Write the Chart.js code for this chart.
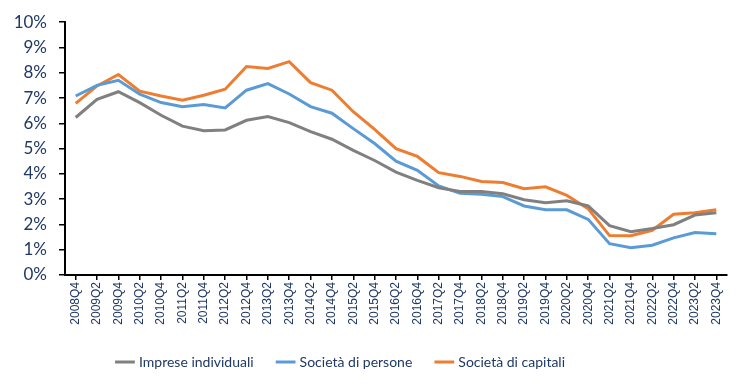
<!DOCTYPE html>
<html>
<head>
<meta charset="utf-8">
<script src="https://cdn.jsdelivr.net/npm/chart.js@4"></script>
<style>
  html, body { margin: 0; padding: 0; background: #fff; }
  #wrap { width: 751px; height: 391px; position: relative; }
</style>
</head>
<body>
<div id="wrap"><canvas id="chart"></canvas></div>
<script>
const quarters = [
  '2008Q4', '2009Q2', '2009Q4', '2010Q2', '2010Q4', '2011Q2', '2011Q4', '2012Q2',
  '2012Q4', '2013Q2', '2013Q4', '2014Q2', '2014Q4', '2015Q2', '2015Q4', '2016Q2',
  '2016Q4', '2017Q2', '2017Q4', '2018Q2', '2018Q4', '2019Q2', '2019Q4', '2020Q2',
  '2020Q4', '2021Q2', '2021Q4', '2022Q2', '2022Q4', '2023Q2', '2023Q4'
];
// valori in %
const impreseIndividuali = [
  6.23, 6.95, 7.25, 6.82, 6.32, 5.89, 5.71, 5.74,
  6.12, 6.27, 6.03, 5.67, 5.37, 4.93, 4.53, 4.07,
  3.74, 3.45, 3.30, 3.30, 3.21, 2.98, 2.86, 2.94,
  2.73, 1.95, 1.71, 1.84, 1.99, 2.37, 2.46
];
const societaPersone = [
  7.08, 7.50, 7.70, 7.15, 6.82, 6.66, 6.74, 6.61,
  7.31, 7.57, 7.16, 6.66, 6.40, 5.79, 5.20, 4.50,
  4.14, 3.52, 3.23, 3.19, 3.10, 2.73, 2.58, 2.58,
  2.20, 1.24, 1.08, 1.18, 1.47, 1.68, 1.63
];
const societaCapitali = [
  6.79, 7.48, 7.93, 7.27, 7.08, 6.91, 7.11, 7.35,
  8.25, 8.17, 8.44, 7.61, 7.31, 6.46, 5.76, 5.00,
  4.69, 4.05, 3.90, 3.70, 3.66, 3.41, 3.49, 3.15,
  2.62, 1.56, 1.55, 1.77, 2.40, 2.46, 2.58
];
const yTicks = [0, 1, 2, 3, 4, 5, 6, 7, 8, 9, 10];

const navy = '#1F3864';

function serie(label, data, color) {
  return {
    label: label,
    data: data,
    borderColor: color,
    backgroundColor: color,
    borderWidth: 3,
    pointRadius: 0,
    tension: 0,
    fill: false
  };
}

// sposta un po' la legenda a sinistra, come nell'originale
const legendShift = {
  id: 'legendShift',
  afterLayout(chart) {
    const lg = chart.legend;
    if (lg) { lg.left -= 22; lg.right -= 22; }
  }
};

const ctx = document.getElementById('chart').getContext('2d');
const chart = new Chart(ctx, {
  type: 'line',
  data: {
    labels: quarters,
    datasets: [
      serie('Imprese individuali', impreseIndividuali, '#808080'),
      serie('Società di persone', societaPersone, '#5B9BD5'),
      serie('Società di capitali', societaCapitali, '#ED7D31')
    ]
  },
  options: {
    responsive: true,
    maintainAspectRatio: false,
    animation: false,
    layout: { padding: { top: 19, right: 24, left: 0, bottom: 12 } },
    scales: {
      x: {
        offset: true,
        grid: {
          display: true,
          offset: false,
          drawOnChartArea: false,
          drawTicks: true,
          tickLength: 5,
          color: '#000',
          lineWidth: 1.5
        },
        border: { color: '#000', width: 2 },
        ticks: {
          autoSkip: false,
          minRotation: 90,
          maxRotation: 90,
          color: navy,
          padding: 2,
          font: { family: 'Liberation Sans', size: 12 }
        },
        afterFit: (scale) => { scale.height = 55; }
      },
      y: {
        min: 0,
        max: 10,
        afterBuildTicks: (scale) => { scale.ticks = yTicks.map(v => ({ value: v })); },
        grid: {
          display: true,
          drawOnChartArea: false,
          drawTicks: true,
          tickLength: 6,
          color: '#000',
          lineWidth: 1.5
        },
        border: { color: '#000', width: 2 },
        ticks: {
          color: navy,
          padding: 12,
          font: { family: 'Lato', size: 17 },
          callback: (v) => v + '%'
        },
        afterFit: (scale) => { scale.width = 65; }
      }
    },
    plugins: {
      legend: {
        display: true,
        position: 'bottom',
        labels: {
          usePointStyle: true,
          pointStyle: 'line',
          boxWidth: 36,
          padding: 25,
          color: navy,
          font: { family: 'Lato', size: 14 }
        }
      },
      tooltip: { enabled: false }
    }
  },
  plugins: [legendShift]
});
</script>
</body>
</html>
